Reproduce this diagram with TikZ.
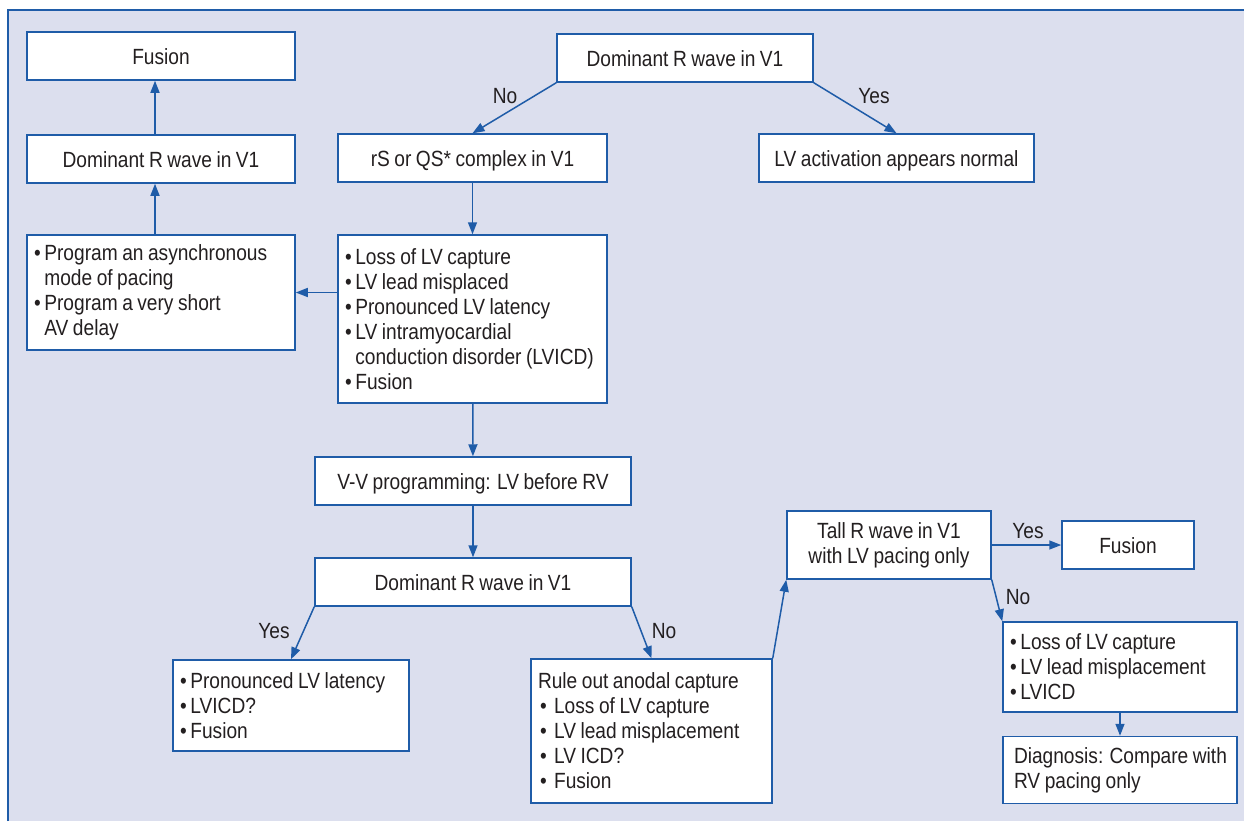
\documentclass[tikz,border=0pt]{standalone}
\usepackage{fontspec}
\setmainfont{Liberation Sans}[FakeStretch=0.87, WordSpace=0.85]
\usetikzlibrary{arrows.meta}
\definecolor{panelbg}{HTML}{DCDFEE}
\definecolor{flowblue}{HTML}{1F5CA8}
\definecolor{inkgray}{HTML}{231F20}
\newcommand{\bul}{\textbullet\,}
\newcommand{\hang}{\phantom{\textbullet\,}}

\begin{document}
\begin{tikzpicture}[x=0.5pt, y=-0.5pt, >={Triangle[length=6pt, width=4.5pt]},
    box/.style 2 args={draw=flowblue, line width=0.75pt, fill=white, text=inkgray,
        font=\fontsize{11}{12.5}\selectfont, inner sep=0pt, align=center,
        minimum width=#1, minimum height=#2},
    onebox/.style 2 args={box={#1}{#2}, text height=8pt, text depth=0pt},
    listbox/.style n args={3}{box={#1}{#2}, align=flush left, inner xsep=3.5pt, text width=#3},
    link/.style={->, draw=flowblue, line width=0.75pt},
    answer/.style={text=inkgray, font=\fontsize{11}{12.5}\selectfont}]
        \useasboundingbox (0,0) rectangle (1244,821);

        % Panel
        \fill[panelbg] (8,10) rectangle (1244,821);
        \draw[flowblue, line width=1pt] (8,821) -- (8,10) -- (1244,10);

        % Nodes
        \node[onebox={134pt}{24pt}] (fusl) at (161,56) {Fusion};
        \node[onebox={134pt}{24pt}] (doml) at (161,159) {Dominant R wave in V1};
        \node[listbox={134pt}{57.5pt}{127pt}] (prog) at (161,292.5)
            {\bul Program an asynchronous\\ \hang mode of pacing\\ \bul Program a very short\\ \hang AV delay};
        \node[onebox={128pt}{24pt}] (topq) at (685,58) {Dominant R wave in V1};
        \node[onebox={134.5pt}{24pt}] (rs) at (472.5,158) {rS or QS* complex in V1};
        \node[onebox={137.5pt}{24pt}] (lvnorm) at (896.5,158) {LV activation appears normal};
        \node[listbox={134.5pt}{84pt}{127.5pt}] (loss) at (472.5,319)
            {\bul Loss of LV capture\\ \bul LV lead misplaced\\ \bul Pronounced LV latency\\
             \bul LV intramyocardial\\ \hang conduction disorder (LVICD)\\ \bul Fusion};
        \node[onebox={158pt}{24pt}] (vv) at (473,481) {V-V programming: LV before RV};
        \node[onebox={158pt}{24pt}] (domm) at (473,582) {Dominant R wave in V1};
        \node[listbox={118pt}{45.5pt}{111pt}] (latency) at (291,705.5)
            {\bul Pronounced LV latency\\ \bul LVICD?\\ \bul Fusion};
        \node[listbox={120.5pt}{72pt}{113.5pt}] (rule) at (651.5,731)
            {Rule out anodal capture\\
             \hspace*{1pt}\textbullet\hspace{3.7pt}Loss of LV capture\\
             \hspace*{1pt}\textbullet\hspace{3.7pt}LV lead misplacement\\
             \hspace*{1pt}\textbullet\hspace{3.7pt}LV ICD?\\
             \hspace*{1pt}\textbullet\hspace{3.7pt}Fusion};
        \node[box={102pt}{34pt}] (tall) at (889,545) {Tall R wave in V1\\ with LV pacing only};
        \node[onebox={66pt}{24pt}] (fusr) at (1128,545) {Fusion};
        \node[listbox={117pt}{45pt}{110pt}] (lossr) at (1120,667)
            {\bul Loss of LV capture\\ \bul LV lead misplacement\\ \bul LVICD};
        \node[listbox={117pt}{33.5pt}{106pt}, inner xsep=5.5pt] (diag) at (1120,770)
            {\mbox{Diagnosis: Compare with}\\ RV pacing only};

        % Directed edges
        \draw[link] (topq.south west) -- (rs.north);
        \draw[link] (topq.south east) -- (lvnorm.north);
        \draw[link] (rs) -- (loss);
        \draw[link] (loss.west |- prog.east) -- (prog.east);
        \draw[link] ([xshift=-3pt]prog.north) -- ([xshift=-3pt]doml.south);
        \draw[link] ([xshift=-3pt]doml.north) -- ([xshift=-3pt]fusl.south);
        \draw[link] (loss) -- (vv);
        \draw[link] (vv) -- (domm);
        \draw[link] (domm.south west) -- (latency.north);
        \draw[link] (domm.south east) -- (rule.north);
        \draw[link] (rule.north east) -- (tall.south west);
        \draw[link] (tall.east) -- (fusr.west);
        \draw[link] (tall.south east) -- (lossr.north west);
        \draw[link] (lossr) -- (diag);

        % Answers
        \node[answer] (no1) at (505,96) {No};
        \node[answer] (yes1) at (874,96) {Yes};
        \node[answer] (yes2) at (274,631) {Yes};
        \node[answer] (no2) at (664,631) {No};
        \node[answer] (yes3) at (1028,531) {Yes};
        \node[answer] (no3) at (1018,597) {No};
    \end{tikzpicture}
\end{document}
